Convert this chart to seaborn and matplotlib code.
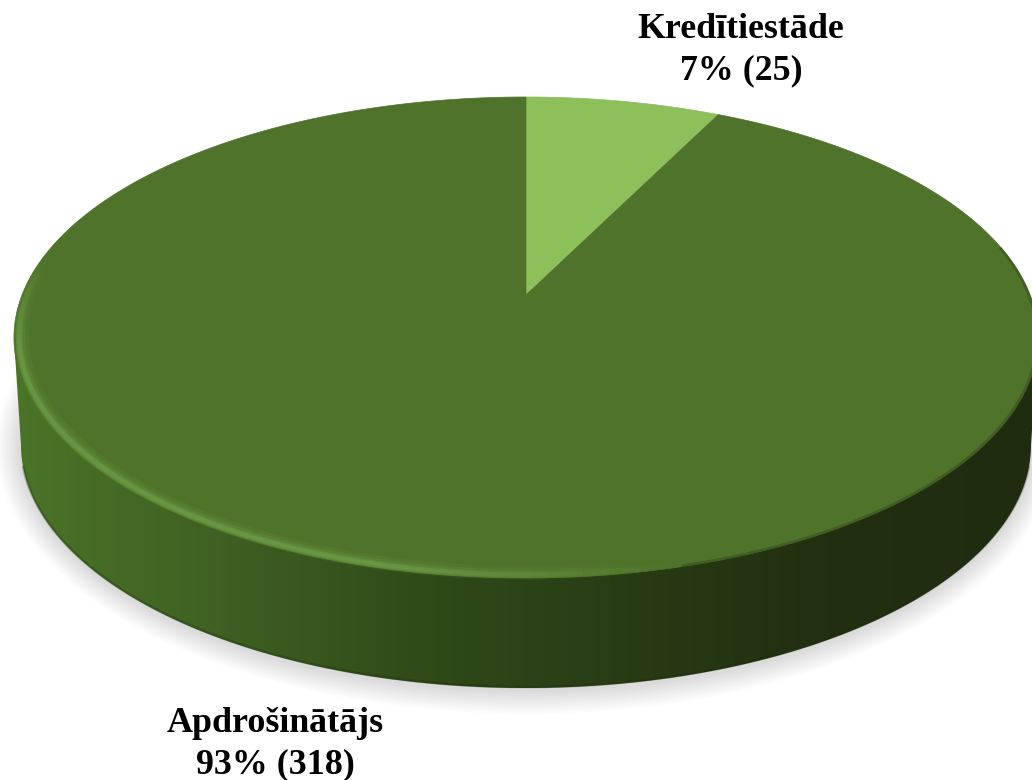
import numpy as np
import seaborn as sns
import matplotlib.pyplot as plt
from matplotlib.collections import LineCollection
from matplotlib.patches import Polygon

# Data
categories = ['Kredītiestāde', 'Apdrošinātājs']
counts = [25, 318]
slice_colors = ['#8DBF5B', '#50732B']
side_colors = ['#4A7428', '#3F6022', '#304A19', '#283C14', '#222F11', '#1F2C10']

sns.set_theme(style='white')
plt.rcParams['font.family'] = ['Liberation Serif', 'DejaVu Serif']

fig, ax = plt.subplots(figsize=(10.32, 7.8), dpi=100)
ax.set_position([0, 0, 1, 1])
ax.set_xlim(0, 1032)
ax.set_ylim(780, 0)
ax.axis('off')


# unit disc to pixels, the top face is seen in perspective
def top_face(x, y):
    k = 0.1767
    d = 1 + k * y
    return 526 + 504 * x / d, 295 - 233 * y / d


def bottom_face(t):
    return 526 + 505 * np.cos(t), 445 + 243 * np.sin(t)


# soft shadow under the disc
for s in np.arange(2, 26, 2):
    t = np.linspace(0, 2 * np.pi, 300)
    ax.add_patch(Polygon(np.c_[526 + (505 + s) * np.cos(t), 447 + (243 + s) * np.sin(t)],
                         fc='black', ec='none', alpha=0.011, zorder=1))

# side wall with a left to right gradient
circle = np.linspace(0, 2 * np.pi, 720)
top_x, top_y = top_face(np.cos(circle), np.sin(circle))
t = np.linspace(np.pi, 0, 400)
low_x, low_y = bottom_face(t)
left = np.argmin(top_x)
right = np.argmax(top_x)
wall = Polygon(np.r_[[[top_x[left], top_y[left]]], np.c_[low_x, low_y], [[top_x[right], top_y[right]]]],
               fc='none', ec='none', transform=ax.transData)
ax.add_patch(wall)
side_cmap = sns.blend_palette(side_colors, as_cmap=True)
img = ax.imshow(np.linspace(0, 1, 256)[None, :], cmap=side_cmap, extent=(14, 1032, 780, 0),
                aspect='auto', zorder=2)
img.set_clip_path(wall)
ax.set_xlim(0, 1032)
ax.set_ylim(780, 0)

# darker rim along the foot of the wall
ax.plot(low_x[12:-12], low_y[12:-12] - 1, color='#1C2E0E', lw=2, alpha=0.3, zorder=3)

# pie slices of the top face, clockwise from twelve o'clock
fractions = np.array(counts) / np.sum(counts)
edges = np.r_[0, np.cumsum(fractions)] * 2 * np.pi
for start, stop, color in zip(edges[:-1], edges[1:], slice_colors):
    a = np.linspace(start, stop, 400)
    px, py = top_face(np.sin(a), np.cos(a))
    cx, cy = top_face(0, 0)
    ax.add_patch(Polygon(np.c_[np.r_[cx, px], np.r_[cy, py]], fc=color, ec=color, lw=0.5, zorder=4))

# bevel highlight round the lower left of the face
a = np.radians(np.linspace(285, 170, 300))
for radius, width, strength in [(0.985, 10, 0.1), (0.988, 7, 0.16), (0.99, 5, 0.24), (0.99, 3, 0.34)]:
    bx, by = top_face(radius * np.cos(a), radius * np.sin(a))
    pts = np.c_[bx, by]
    segs = np.stack([pts[:-1], pts[1:]], axis=1)
    pos = np.linspace(0, 1, len(segs))
    fade = np.clip(pos * 4, 0, 1) * np.clip((1 - pos) * 5, 0, 1)
    rgba = np.tile(plt.matplotlib.colors.to_rgba('#78AE52'), (len(segs), 1))
    rgba[:, 3] = fade * strength
    ax.add_collection(LineCollection(segs, colors=rgba, linewidths=width, capstyle='butt', zorder=5))

# dark soft edge where the face meets the wall on the right
a = np.radians(np.linspace(285, 372, 200))
ex, ey = top_face(0.998 * np.cos(a), 0.998 * np.sin(a))
ax.plot(ex, ey, color='#3A5020', lw=2, alpha=0.6, zorder=5)

# labels
label_pos = [(741, 50), (275, 744)]
for name, n, frac, (lx, ly) in zip(categories, counts, fractions, label_pos):
    ax.text(lx, ly, f'{name}\n{frac * 100:.0f}% ({n})', ha='center', va='center', fontsize=25.8,
            fontweight='bold', color='black', linespacing=1.33, zorder=6)

fig.savefig('out.png', dpi=100)
